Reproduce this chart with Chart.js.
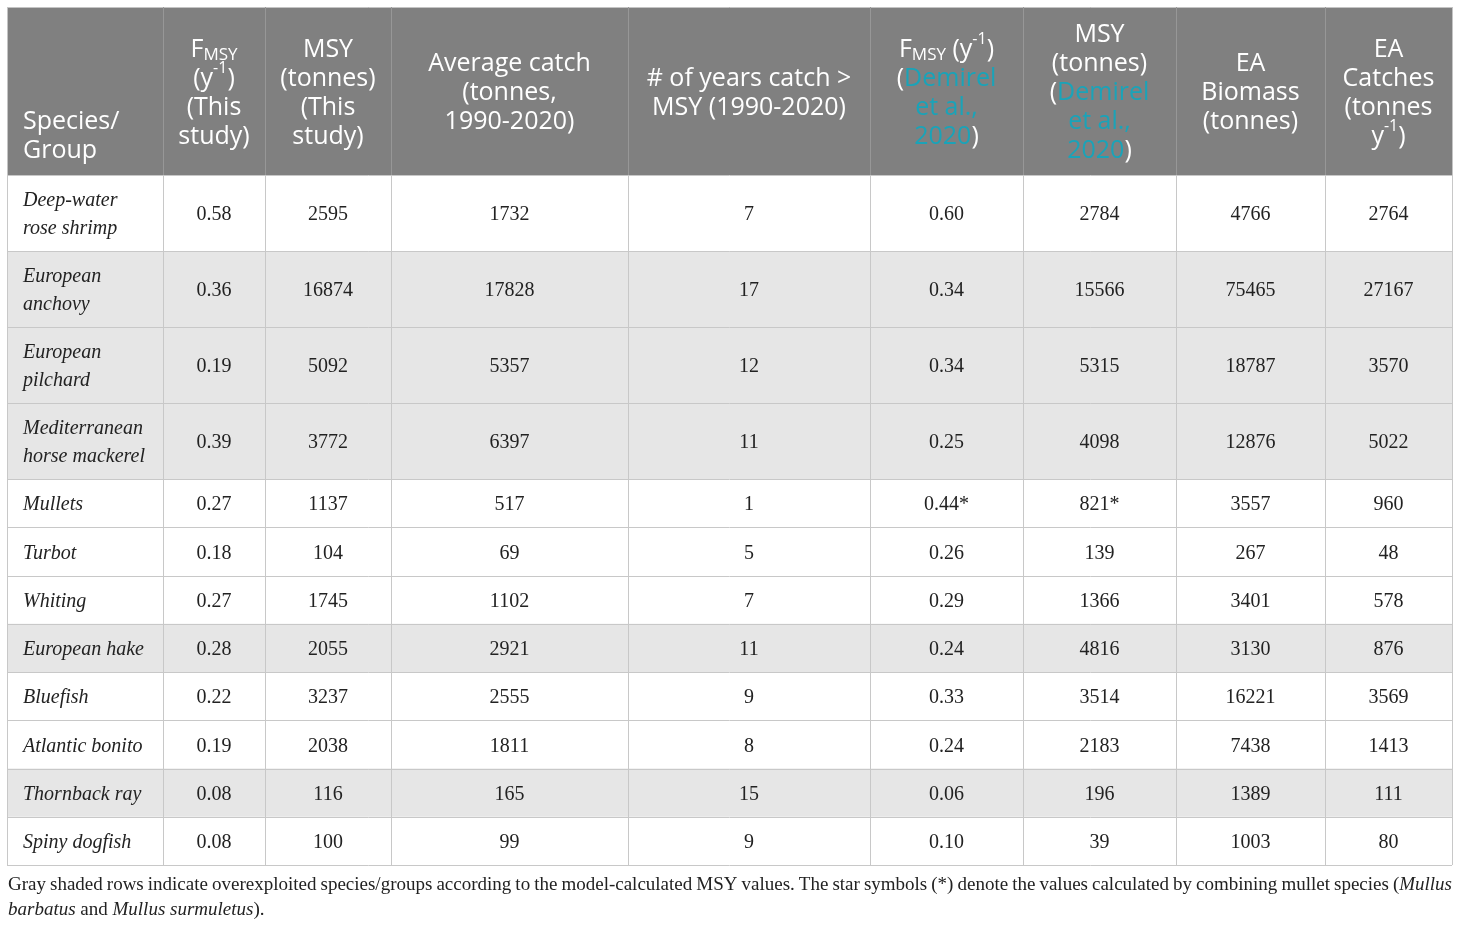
<!DOCTYPE html>
<html>
<head>
<meta charset="utf-8">
<script src="https://cdn.jsdelivr.net/npm/chart.js@4.4.0/dist/chart.umd.min.js"></script>
<style>
  html, body { margin: 0; padding: 0; background: #fff; }
  canvas { display: block; }
</style>
</head>
<body>
<canvas id="msyTable" width="1460" height="925"></canvas>
<script>
// table data
const species = [
  ['Deep-water', 'rose shrimp'], ['European', 'anchovy'], ['European', 'pilchard'],
  ['Mediterranean', 'horse mackerel'], ['Mullets'], ['Turbot'], ['Whiting'],
  ['European hake'], ['Bluefish'], ['Atlantic bonito'], ['Thornback ray'], ['Spiny dogfish']
];
const fmsyThis     = [0.58, 0.36, 0.19, 0.39, 0.27, 0.18, 0.27, 0.28, 0.22, 0.19, 0.08, 0.08];
const msyThis      = [2595, 16874, 5092, 3772, 1137, 104, 1745, 2055, 3237, 2038, 116, 100];
const avgCatch     = [1732, 17828, 5357, 6397, 517, 69, 1102, 2921, 2555, 1811, 165, 99];
const yearsOverMsy = [7, 17, 12, 11, 1, 5, 7, 11, 9, 8, 15, 9];
const fmsyDemirel  = [0.60, 0.34, 0.34, 0.25, 0.44, 0.26, 0.29, 0.24, 0.33, 0.24, 0.06, 0.10];
const msyDemirel   = [2784, 15566, 5315, 4098, 821, 139, 1366, 4816, 3514, 2183, 196, 39];
const eaBiomass    = [4766, 75465, 18787, 12876, 3557, 267, 3401, 3130, 16221, 7438, 1389, 1003];
const eaCatches    = [2764, 27167, 3570, 5022, 960, 48, 578, 876, 3569, 1413, 111, 80];
const overexploited = [false, true, true, true, false, false, false, true, false, false, true, false];
const combinedMullet = [false, false, false, false, true, false, false, false, false, false, false, false];

// header lines: _{} subscript, ^{} superscript, [] citation link
const headers = [
  ['Species/', 'Group'],
  ['F_{MSY}', '(y^{-1})', '(This', 'study)'],
  ['MSY', '(tonnes)', '(This', 'study)'],
  ['Average catch', '(tonnes,', '1990-2020)'],
  ['# of years catch >', 'MSY (1990-2020)'],
  ['F_{MSY} (y^{-1})', '([Demirel]', '[et al.,]', '[2020])'],
  ['MSY', '(tonnes)', '([Demirel]', '[et al.,]', '[2020])'],
  ['EA', 'Biomass', '(tonnes)'],
  ['EA', 'Catches', '(tonnes', 'y^{-1})']
];
// footnote lines: |...| italic
const footnote = [
  'Gray shaded rows indicate overexploited species/groups according to the model-calculated MSY values. The star symbols (*) denote the values calculated by combining mullet species (|Mullus|',
  '|barbatus| and |Mullus surmuletus|).'
];

// layout
const COL_EDGES = [7, 163, 265, 391, 628, 870, 1023, 1176, 1325, 1452];
const TABLE_TOP = 7;
const HEADER_BOTTOM = 175;
const ROW_H2 = 76, ROW_H1 = 48.25;
const HEADER_FONT = '"Open Sans", sans-serif';
const BODY_FONT = '"Liberation Serif", "DejaVu Serif", serif';

const rowEdges = [HEADER_BOTTOM];
species.forEach(s => rowEdges.push(rowEdges[rowEdges.length - 1] + (s.length > 1 ? ROW_H2 : ROW_H1)));
const rowCenters = species.map((s, i) => (rowEdges[i] + rowEdges[i + 1]) / 2 + 2);
const colCenters = COL_EDGES.slice(0, -1).map((e, i) => (e + COL_EDGES[i + 1]) / 2);

const fmt2 = v => v.toFixed(2);
const fmtInt = v => String(v);
const columns = [
  { values: fmsyThis, fmt: fmt2 },
  { values: msyThis, fmt: fmtInt },
  { values: avgCatch, fmt: fmtInt },
  { values: yearsOverMsy, fmt: fmtInt },
  { values: fmsyDemirel, fmt: fmt2, star: true },
  { values: msyDemirel, fmt: fmtInt, star: true },
  { values: eaBiomass, fmt: fmtInt },
  { values: eaCatches, fmt: fmtInt }
];

const datasets = [{
  label: 'Species/Group',
  data: species.map((s, i) => ({ x: COL_EDGES[0] + 16, y: rowCenters[i] })),
  text: species.map(s => s),
  italic: true, align: 'left'
}];
columns.forEach((c, k) => {
  datasets.push({
    label: headers[k + 1].join(' '),
    data: c.values.map((v, i) => ({ x: colCenters[k + 1], y: rowCenters[i] })),
    text: c.values.map((v, i) => [c.fmt(v) + (c.star && combinedMullet[i] ? '*' : '')]),
    italic: false, align: 'center'
  });
});

function parseRich(str) {
  const out = [];
  str.split(/(_\{[^}]*\}|\^\{[^}]*\}|\[[^\]]*\])/).forEach(p => {
    if (!p) return;
    if (p.startsWith('_{')) out.push({ t: p.slice(2, -1), kind: 'sub' });
    else if (p.startsWith('^{')) out.push({ t: p.slice(2, -1), kind: 'sup' });
    else if (p.startsWith('[')) out.push({ t: p.slice(1, -1), kind: 'link' });
    else out.push({ t: p, kind: 'norm' });
  });
  return out;
}

function segFont(kind) {
  if (kind === 'sub') return '17px ' + HEADER_FONT;
  if (kind === 'sup') return '16px ' + HEADER_FONT;
  return '25px ' + HEADER_FONT;
}

function drawRichLine(ctx, str, x, y, align) {
  const segs = parseRich(str);
  let total = 0;
  segs.forEach(s => { ctx.font = segFont(s.kind); s.w = ctx.measureText(s.t).width; total += s.w; });
  let cx = align === 'left' ? x : x - total / 2;
  segs.forEach(s => {
    ctx.font = segFont(s.kind);
    ctx.fillStyle = s.kind === 'link' ? '#1aa3b8' : '#ffffff';
    const dy = s.kind === 'sub' ? 6 : s.kind === 'sup' ? -10 : 0;
    ctx.fillText(s.t, cx, y + dy);
    cx += s.w;
  });
}

// split into words, each word a list of {t, it} pieces
function footWords(str) {
  const words = [];
  let cur = [];
  str.split('|').forEach((piece, pi) => {
    const it = pi % 2 === 1;
    piece.split(' ').forEach((part, j) => {
      if (j > 0) { if (cur.length) words.push(cur); cur = []; }
      if (part) cur.push({ t: part, it });
    });
  });
  if (cur.length) words.push(cur);
  return words;
}

function drawFootLine(ctx, str, x, y, width, justify) {
  const words = footWords(str);
  const size = 19;
  const fontFor = it => (it ? 'italic ' : '') + size + 'px ' + BODY_FONT;
  ctx.font = fontFor(false);
  const space = ctx.measureText(' ').width;
  let natural = 0;
  words.forEach(segs => segs.forEach(s => { ctx.font = fontFor(s.it); s.w = ctx.measureText(s.t).width; natural += s.w; }));
  const gap = justify ? (width - natural) / (words.length - 1) : space;
  let cx = x;
  ctx.fillStyle = '#222222';
  words.forEach(segs => {
    segs.forEach(s => { ctx.font = fontFor(s.it); ctx.fillText(s.t, cx, y); cx += s.w; });
    cx += gap;
  });
}

const tablePlugin = {
  id: 'tablePlugin',
  beforeDatasetsDraw(chart) {
    const { ctx, scales: { x, y } } = chart;
    const px = v => x.getPixelForValue(v);
    const py = v => y.getPixelForValue(v);
    const left = px(COL_EDGES[0]), right = px(COL_EDGES[COL_EDGES.length - 1]);
    const top = py(TABLE_TOP), hb = py(HEADER_BOTTOM), bottom = py(rowEdges[rowEdges.length - 1]);
    ctx.save();
    ctx.fillStyle = '#808080';
    ctx.fillRect(left, top, right - left, hb - top);
    species.forEach((s, i) => {
      if (!overexploited[i]) return;
      ctx.fillStyle = '#e6e6e6';
      ctx.fillRect(left, py(rowEdges[i]), right - left, py(rowEdges[i + 1]) - py(rowEdges[i]));
    });
    ctx.lineWidth = 1;
    const line = (x1, y1, x2, y2, col) => {
      ctx.strokeStyle = col;
      ctx.beginPath();
      ctx.moveTo(x1, y1);
      ctx.lineTo(x2, y2);
      ctx.stroke();
    };
    const r = v => Math.round(v) + 0.5;
    line(left, r(top), right, r(top), '#c4c4c4');
    rowEdges.forEach(e => line(left, r(py(e)), right, r(py(e)), '#c8c8c8'));
    COL_EDGES.forEach((e, i) => {
      const isOuter = i === 0 || i === COL_EDGES.length - 1;
      line(r(px(e)), top, r(px(e)), hb, isOuter ? '#c4c4c4' : '#979797');
      line(r(px(e)), hb, r(px(e)), bottom, '#c8c8c8');
    });

    // header text
    ctx.textBaseline = 'middle';
    ctx.textAlign = 'left';
    const lh = 29;
    headers.forEach((lines, c) => {
      const n = lines.length;
      if (c === 0) {
        const lastY = py(HEADER_BOTTOM) - 24;
        lines.forEach((l, k) => drawRichLine(ctx, l, px(COL_EDGES[0] + 16), lastY - (n - 1 - k) * lh, 'left'));
      } else {
        const cy = (py(TABLE_TOP) + py(HEADER_BOTTOM)) / 2 + 2;
        lines.forEach((l, k) => drawRichLine(ctx, l, px(colCenters[c]), cy + (k - (n - 1) / 2) * lh, 'center'));
      }
    });
    ctx.restore();
  },
  afterDatasetsDraw(chart) {
    const { ctx, scales: { x, y } } = chart;
    ctx.save();
    ctx.textBaseline = 'middle';
    ctx.fillStyle = '#222222';
    chart.data.datasets.forEach((ds, di) => {
      const meta = chart.getDatasetMeta(di);
      ctx.font = (ds.italic ? 'italic ' : '') + '20px ' + BODY_FONT;
      ctx.textAlign = ds.align;
      meta.data.forEach((pt, i) => {
        const lines = ds.text[i];
        lines.forEach((l, k) => ctx.fillText(l, pt.x, pt.y + (k - (lines.length - 1) / 2) * 28));
      });
    });
    // footnote
    ctx.textAlign = 'left';
    const fx = x.getPixelForValue(COL_EDGES[0] + 1);
    const fw = x.getPixelForValue(COL_EDGES[COL_EDGES.length - 1]) - fx;
    drawFootLine(ctx, footnote[0], fx, y.getPixelForValue(885), fw, true);
    drawFootLine(ctx, footnote[1], fx, y.getPixelForValue(910), fw, false);
    ctx.restore();
  }
};

new Chart(document.getElementById('msyTable'), {
  type: 'scatter',
  data: { datasets: datasets.map(d => Object.assign({ pointRadius: 0, pointHoverRadius: 0 }, d)) },
  options: {
    responsive: false,
    animation: false,
    events: [],
    layout: { padding: 0 },
    plugins: { legend: { display: false }, tooltip: { enabled: false } },
    scales: {
      x: { type: 'linear', min: 0, max: 1460, display: false },
      y: { type: 'linear', min: 0, max: 925, reverse: true, display: false }
    }
  },
  plugins: [tablePlugin]
});
</script>
</body>
</html>
